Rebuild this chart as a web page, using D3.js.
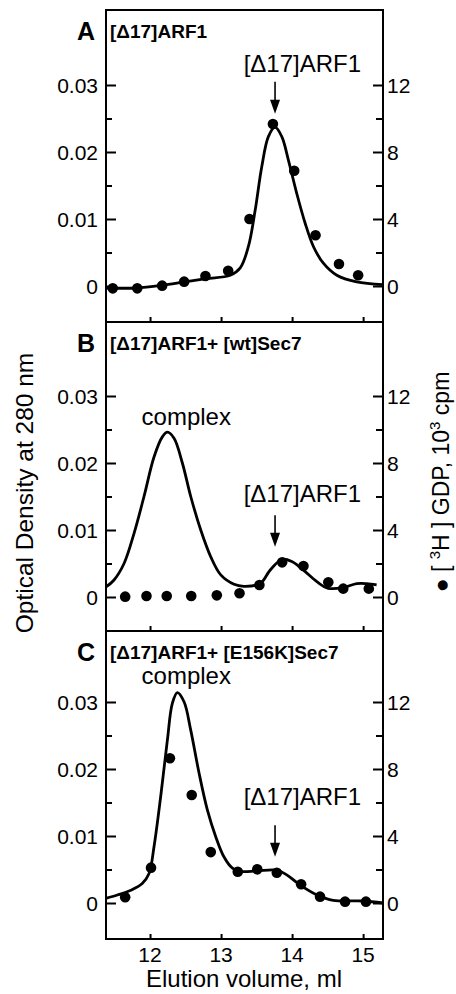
<!DOCTYPE html>
<html>
<head>
<meta charset="utf-8">
<script src="https://cdn.jsdelivr.net/npm/d3@7"></script>
<style>
  body { margin: 0; background: #fff; }
  text { font-family: "Liberation Sans", Arial, sans-serif; fill: #000; }
</style>
</head>
<body>
<svg width="456" height="994"></svg>
<script>
// elution volume (ml) and optical density at 280 nm
var curveVolA = [11.38, 11.8, 12.17, 12.48, 12.79, 13.13, 13.27, 13.385, 13.48, 13.573, 13.666, 13.76, 13.855, 13.948, 14.066, 14.183, 14.3, 14.44, 14.63, 14.91, 15.28];
var curveOdA  = [-0.0003, -0.0003, 0.0001, 0.0006, 0.0011, 0.0016, 0.0027, 0.0059, 0.0113, 0.0178, 0.0223, 0.0237, 0.0223, 0.0188, 0.0138, 0.0094, 0.0059, 0.0034, 0.0016, 0.0006, 0.0002];
var curveVolB = [11.38, 11.49, 11.634, 11.775, 11.915, 12.056, 12.173, 12.244, 12.338, 12.455, 12.573, 12.714, 12.855, 12.996, 13.183, 13.32, 13.55, 13.69, 13.855, 13.996, 14.16, 14.348, 14.51, 14.72, 14.91, 15.05, 15.19];
var curveOdB  = [0.0015, 0.0025, 0.0050, 0.0095, 0.0150, 0.0209, 0.0239, 0.0246, 0.0237, 0.0200, 0.0150, 0.0100, 0.0060, 0.0033, 0.0019, 0.0016, 0.0020, 0.0040, 0.0056, 0.0053, 0.0040, 0.0023, 0.0013, 0.0014, 0.0020, 0.0020, 0.0018];
var curveVolC = [11.38, 11.54, 11.73, 11.89, 11.986, 12.056, 12.15, 12.244, 12.314, 12.385, 12.48, 12.573, 12.69, 12.807, 12.925, 13.04, 13.16, 13.277, 13.51, 13.785, 13.925, 14.11, 14.35, 14.58, 15.0, 15.28];
var curveOdC  = [0.0007, 0.0012, 0.0019, 0.0029, 0.0044, 0.0084, 0.0159, 0.0243, 0.0298, 0.0314, 0.0300, 0.0258, 0.0194, 0.0139, 0.0099, 0.0069, 0.0052, 0.0047, 0.0048, 0.0049, 0.0042, 0.0027, 0.0012, 0.0004, 0.0003, 0.0000];

// [3H]GDP fractions, 10^3 cpm
var dotVolA = [11.475, 11.82, 12.17, 12.48, 12.78, 13.10, 13.40, 13.73, 14.03, 14.33, 14.66, 14.93];
var dotCpmA = [-0.14, -0.14, 0.02, 0.26, 0.6, 0.91, 4.0, 9.67, 6.88, 3.03, 1.31, 0.64];
var dotVolB = [11.65, 11.95, 12.235, 12.58, 12.94, 13.26, 13.54, 13.86, 14.16, 14.51, 14.72, 15.08];
var dotCpmB = [0.02, 0.06, 0.06, 0.06, 0.1, 0.22, 0.72, 2.07, 1.85, 0.88, 0.5, 0.5];
var dotVolC = [11.65, 12.014, 12.28, 12.587, 12.855, 13.235, 13.51, 13.785, 14.127, 14.394, 14.746, 15.04];
var dotCpmC = [0.34, 2.11, 8.64, 6.45, 3.04, 1.87, 2.01, 1.81, 1.12, 0.38, 0.08, 0.08];

var panelLetters = ["A", "B", "C"];
var panelTitles = ["[\u039417]ARF1", "[\u039417]ARF1+ [wt]Sec7", "[\u039417]ARF1+ [E156K]Sec7"];
var odTicks = [0, 0.01, 0.02, 0.03];
var odTickLabels = ["0", "0.01", "0.02", "0.03"];
var odMinorTicks = [0.005, 0.015, 0.025];
var cpmTicks = [0, 4, 8, 12];
var cpmMinorTicks = [2, 6, 10];
var volTicks = [12, 13, 14, 15];

var svg = d3.select("svg");

var x = d3.scaleLinear().domain([11.38, 15.28]).range([106, 383]);

var panels = [
  {top: 10,  bottom: 322, zero: 286, vol: curveVolA, od: curveOdA, dv: dotVolA, dc: dotCpmA,
   arfLabel: 0.0319, arrow: [0.0305, 0.0257], complex: null},
  {top: 322, bottom: 631, zero: 597, vol: curveVolB, od: curveOdB, dv: dotVolB, dc: dotCpmB,
   arfLabel: 0.0142, arrow: [0.0122, 0.0075], complex: 0.0257},
  {top: 631, bottom: 939, zero: 903, vol: curveVolC, od: curveOdC, dv: dotVolC, dc: dotCpmC,
   arfLabel: 0.0146, arrow: [0.0116, 0.0069], complex: 0.0327}
];

panels.forEach(function(p, i) {
  var y = d3.scaleLinear().domain([0, 0.03]).range([p.zero, p.zero - 201]);
  var yR = d3.scaleLinear().domain([0, 12]).range([p.zero, p.zero - 201]);
  var g = svg.append("g");

  // frame
  g.append("rect")
    .attr("x", 106).attr("y", p.top)
    .attr("width", 277).attr("height", p.bottom - p.top)
    .attr("fill", "none").attr("stroke", "#000").attr("stroke-width", 2);

  // left ticks, pointing inward
  g.append("g").attr("transform", "translate(106,0)")
    .call(d3.axisRight(y).tickValues(odTicks).tickSize(10).tickFormat(""))
    .call(function(a) { a.select(".domain").remove(); a.selectAll("line").attr("stroke-width", 2); });
  g.append("g").attr("transform", "translate(106,0)")
    .call(d3.axisRight(y).tickValues(odMinorTicks).tickSize(6).tickFormat(""))
    .call(function(a) { a.select(".domain").remove(); a.selectAll("line").attr("stroke-width", 2); });
  g.selectAll("text.odlab").data(odTicks).enter().append("text")
    .attr("x", 98).attr("y", function(d) { return y(d); })
    .attr("dy", "0.36em").attr("text-anchor", "end")
    .style("font-size", "21px")
    .text(function(d, k) { return odTickLabels[k]; });

  // right ticks
  g.append("g").attr("transform", "translate(383,0)")
    .call(d3.axisLeft(yR).tickValues(cpmTicks).tickSize(10).tickFormat(""))
    .call(function(a) { a.select(".domain").remove(); a.selectAll("line").attr("stroke-width", 2); });
  g.append("g").attr("transform", "translate(383,0)")
    .call(d3.axisLeft(yR).tickValues(cpmMinorTicks).tickSize(7).tickFormat(""))
    .call(function(a) { a.select(".domain").remove(); a.selectAll("line").attr("stroke-width", 2); });
  g.selectAll("text.cpmlab").data(cpmTicks).enter().append("text")
    .attr("x", 387).attr("y", function(d) { return yR(d); })
    .attr("dy", "0.36em")
    .style("font-size", "21px")
    .text(function(d) { return d; });

  // bottom ticks
  g.append("g").attr("transform", "translate(0," + p.bottom + ")")
    .call(d3.axisTop(x).tickValues(volTicks).tickSize(5).tickFormat(""))
    .call(function(a) { a.select(".domain").remove(); a.selectAll("line").attr("stroke-width", 2); });

  // OD trace
  var line = d3.line()
    .x(function(d, k) { return x(p.vol[k]); })
    .y(function(d) { return y(d); })
    .curve(d3.curveCatmullRom.alpha(0.5));
  g.append("path").datum(p.od)
    .attr("d", line)
    .attr("fill", "none").attr("stroke", "#000").attr("stroke-width", 2.8)
    .attr("stroke-linejoin", "round");

  // GDP dots
  g.selectAll("circle").data(p.dc).enter().append("circle")
    .attr("cx", function(d, k) { return x(p.dv[k]); })
    .attr("cy", function(d) { return yR(d); })
    .attr("r", 5.3)
    .attr("fill", "#000");

  // panel letter + title
  g.append("text").attr("x", 77).attr("y", p.top + 30)
    .style("font-size", "25px").style("font-weight", "bold")
    .text(panelLetters[i]);
  g.append("text").attr("x", 110).attr("y", p.top + 28)
    .style("font-size", "19px").style("font-weight", "bold")
    .text(panelTitles[i]);

  // annotations
  g.append("text").attr("x", x(14.145)).attr("y", y(p.arfLabel))
    .attr("text-anchor", "middle").style("font-size", "24px")
    .text("[\u039417]ARF1");
  var ax = x(13.76), y0 = y(p.arrow[0]), y1 = y(p.arrow[1]);
  g.append("line").attr("x1", ax).attr("x2", ax).attr("y1", y0).attr("y2", y1 - 10)
    .attr("stroke", "#000").attr("stroke-width", 1.6);
  g.append("path")
    .attr("d", "M" + (ax - 5) + "," + (y1 - 14) + "L" + (ax + 5) + "," + (y1 - 14) + "L" + ax + "," + y1 + "Z")
    .attr("fill", "#000");
  if (p.complex !== null) {
    g.append("text").attr("x", x(12.51)).attr("y", y(p.complex))
      .attr("text-anchor", "middle").style("font-size", "24px")
      .text("complex");
  }
});

// x tick labels (bottom panel only)
svg.selectAll("text.vol").data(volTicks).enter().append("text")
  .attr("x", function(d) { return x(d); }).attr("y", 962)
  .attr("text-anchor", "middle").style("font-size", "21px")
  .text(function(d) { return d; });

svg.append("text").attr("x", 244).attr("y", 987)
  .attr("text-anchor", "middle").style("font-size", "24px")
  .text("Elution volume, ml");

svg.append("text")
  .attr("transform", "translate(33,493) rotate(-90)")
  .attr("text-anchor", "middle").style("font-size", "24.5px")
  .text("Optical Density at 280 nm");

var rt = svg.append("text")
  .attr("transform", "translate(449,482) rotate(-90)")
  .attr("text-anchor", "middle").style("font-size", "23px");
rt.append("tspan").text("\u25CF [ ");
rt.append("tspan").attr("dy", -9).style("font-size", "15px").text("3");
rt.append("tspan").attr("dy", 9).text("H ] GDP, 10");
rt.append("tspan").attr("dy", -9).style("font-size", "15px").text("3");
rt.append("tspan").attr("dy", 9).text(" cpm");
</script>
</body>
</html>
